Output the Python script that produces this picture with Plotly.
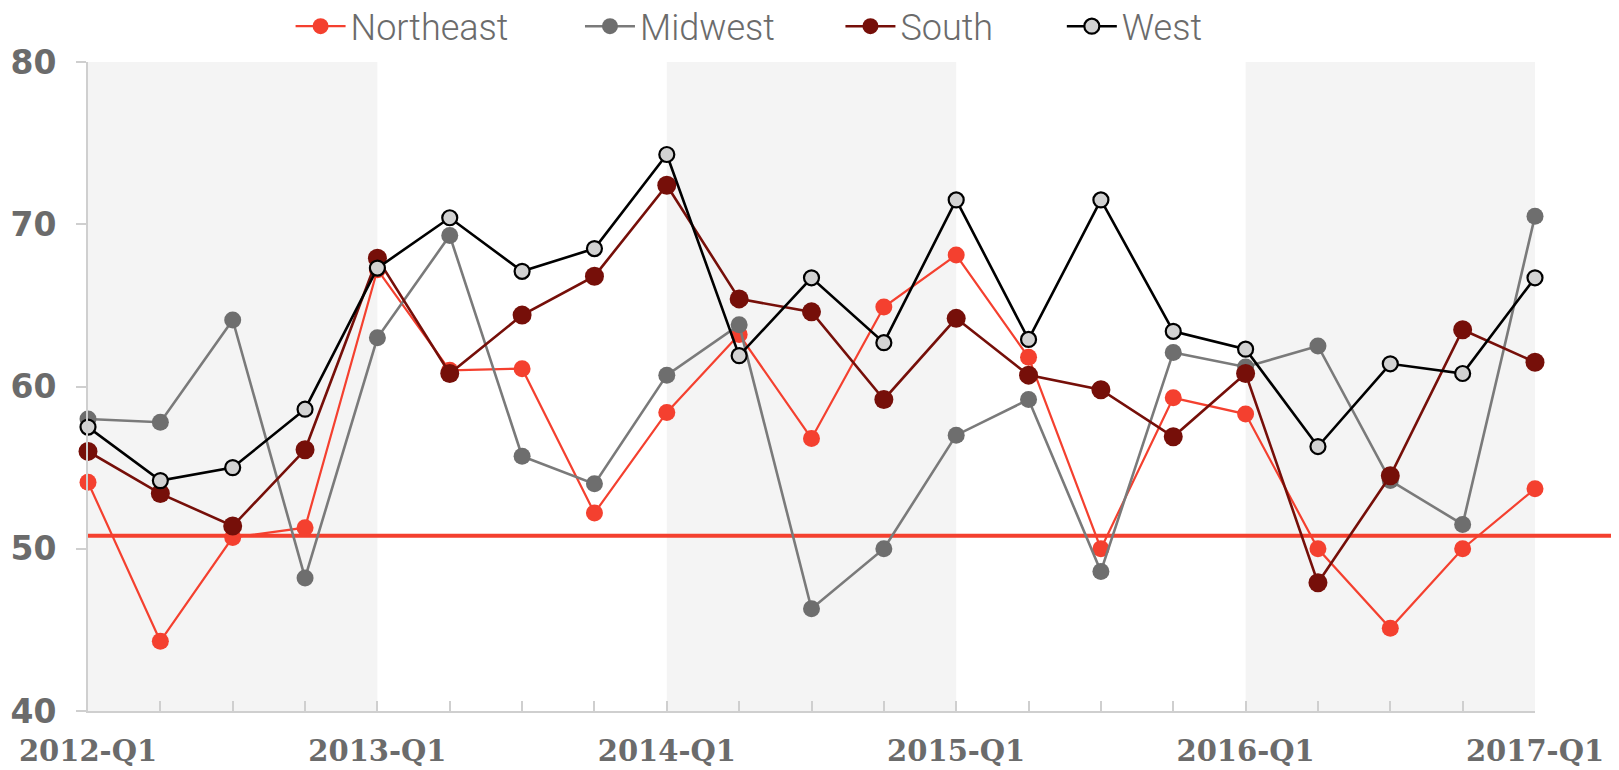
import plotly.graph_objects as go

# Quarterly index by region, 2012-Q1 .. 2017-Q1
quarters = ["2012-Q1", "2012-Q2", "2012-Q3", "2012-Q4",
            "2013-Q1", "2013-Q2", "2013-Q3", "2013-Q4",
            "2014-Q1", "2014-Q2", "2014-Q3", "2014-Q4",
            "2015-Q1", "2015-Q2", "2015-Q3", "2015-Q4",
            "2016-Q1", "2016-Q2", "2016-Q3", "2016-Q4",
            "2017-Q1"]

northeast = [54.1, 44.3, 50.7, 51.3, 67.2, 61.0, 61.1, 52.2, 58.4, 63.2, 56.8,
             64.9, 68.1, 61.8, 50.0, 59.3, 58.3, 50.0, 45.1, 50.0, 53.7]
midwest = [58.0, 57.8, 64.1, 48.2, 63.0, 69.3, 55.7, 54.0, 60.7, 63.8, 46.3,
           50.0, 57.0, 59.2, 48.6, 62.1, 61.2, 62.5, 54.2, 51.5, 70.5]
south = [56.0, 53.4, 51.4, 56.1, 67.9, 60.8, 64.4, 66.8, 72.4, 65.4, 64.6,
         59.2, 64.2, 60.7, 59.8, 56.9, 60.8, 47.9, 54.5, 63.5, 61.5]
west = [57.5, 54.2, 55.0, 58.6, 67.3, 70.4, 67.1, 68.5, 74.3, 61.9, 66.7,
        62.7, 71.5, 62.9, 71.5, 63.4, 62.3, 56.3, 61.4, 60.8, 66.7]

reference_level = 50.8
shaded_years = [("2012-Q1", "2013-Q1"), ("2014-Q1", "2015-Q1"), ("2016-Q1", "2017-Q1")]
year_labels = [q if q.endswith("Q1") else "" for q in quarters]
y_ticks = [40, 50, 60, 70, 80]

GREY_TEXT = "#6b6b6b"
AXIS = "#cfcfcf"
RED = "#f4402f"

# name, values, marker, line, legend id, legend x (paper)
series = [
    ("Northeast", northeast, dict(color=RED, size=17),
     dict(color=RED, width=2.2), "legend", 0.140),
    ("Midwest", midwest, dict(color="#6e6e6e", size=17),
     dict(color="#7a7a7a", width=2.6), "legend2", 0.340),
    ("South", south, dict(color="#760f09", size=19),
     dict(color="#760f09", width=2.6), "legend3", 0.520),
    ("West", west, dict(color="#d2d2d2", size=15, line=dict(color="black", width=2.2)),
     dict(color="black", width=2.6), "legend4", 0.673),
]

fig = go.Figure()
legends = {}
for name, vals, marker, line, leg, lx in series:
    fig.add_trace(go.Scatter(
        x=quarters, y=vals, name=name, mode="lines+markers",
        marker=marker, line=line, cliponaxis=False, legend=leg,
    ))
    legends[leg] = dict(
        orientation="h", x=lx, xanchor="left", y=1.055, yanchor="middle",
        font=dict(family="Roboto", size=36, color=GREY_TEXT, weight=300),
        bgcolor="rgba(0,0,0,0)", itemwidth=50,
    )

# alternating year bands
for x0, x1 in shaded_years:
    fig.add_shape(type="rect", xref="x", yref="y", x0=x0, x1=x1, y0=40, y1=80,
                  fillcolor="#f4f4f4", line_width=0, layer="below")

# reference line: inside the plot (over the bands) and on past the right edge
fig.add_shape(type="line", xref="x", yref="y", x0=quarters[0], x1=quarters[-1],
              y0=reference_level, y1=reference_level,
              line=dict(color=RED, width=4), layer="below")
fig.add_shape(type="line", xref="paper", yref="y", x0=0.99, x1=1.06,
              y0=reference_level, y1=reference_level,
              line=dict(color=RED, width=4), layer="below")

# page body has an 8px margin, so the figure is sized to fit inside the window
fig.update_layout(
    width=1611, height=762,
    margin=dict(l=80, r=84, t=54, b=59, autoexpand=False),
    plot_bgcolor="white", paper_bgcolor="white",
    showlegend=True,
    xaxis=dict(
        type="category", range=[0, len(quarters) - 1],
        tickvals=quarters, ticktext=year_labels,
        ticks="inside", ticklen=10, tickcolor=AXIS, tickwidth=1.5,
        showline=True, linecolor=AXIS, linewidth=2, showgrid=False, zeroline=False,
        ticklabelstandoff=13,
        tickfont=dict(family="DejaVu Serif", size=29, color=GREY_TEXT, weight="bold"),
    ),
    yaxis=dict(
        range=[40, 80], tickvals=y_ticks,
        ticks="outside", ticklen=10, tickcolor=AXIS, tickwidth=1.5,
        showline=True, linecolor=AXIS, linewidth=2, showgrid=False, zeroline=False,
        ticklabelstandoff=13,
        tickfont=dict(family="DejaVu Sans", size=33, color=GREY_TEXT, weight="bold"),
    ),
    **legends,
)

fig.write_html("out.html")
